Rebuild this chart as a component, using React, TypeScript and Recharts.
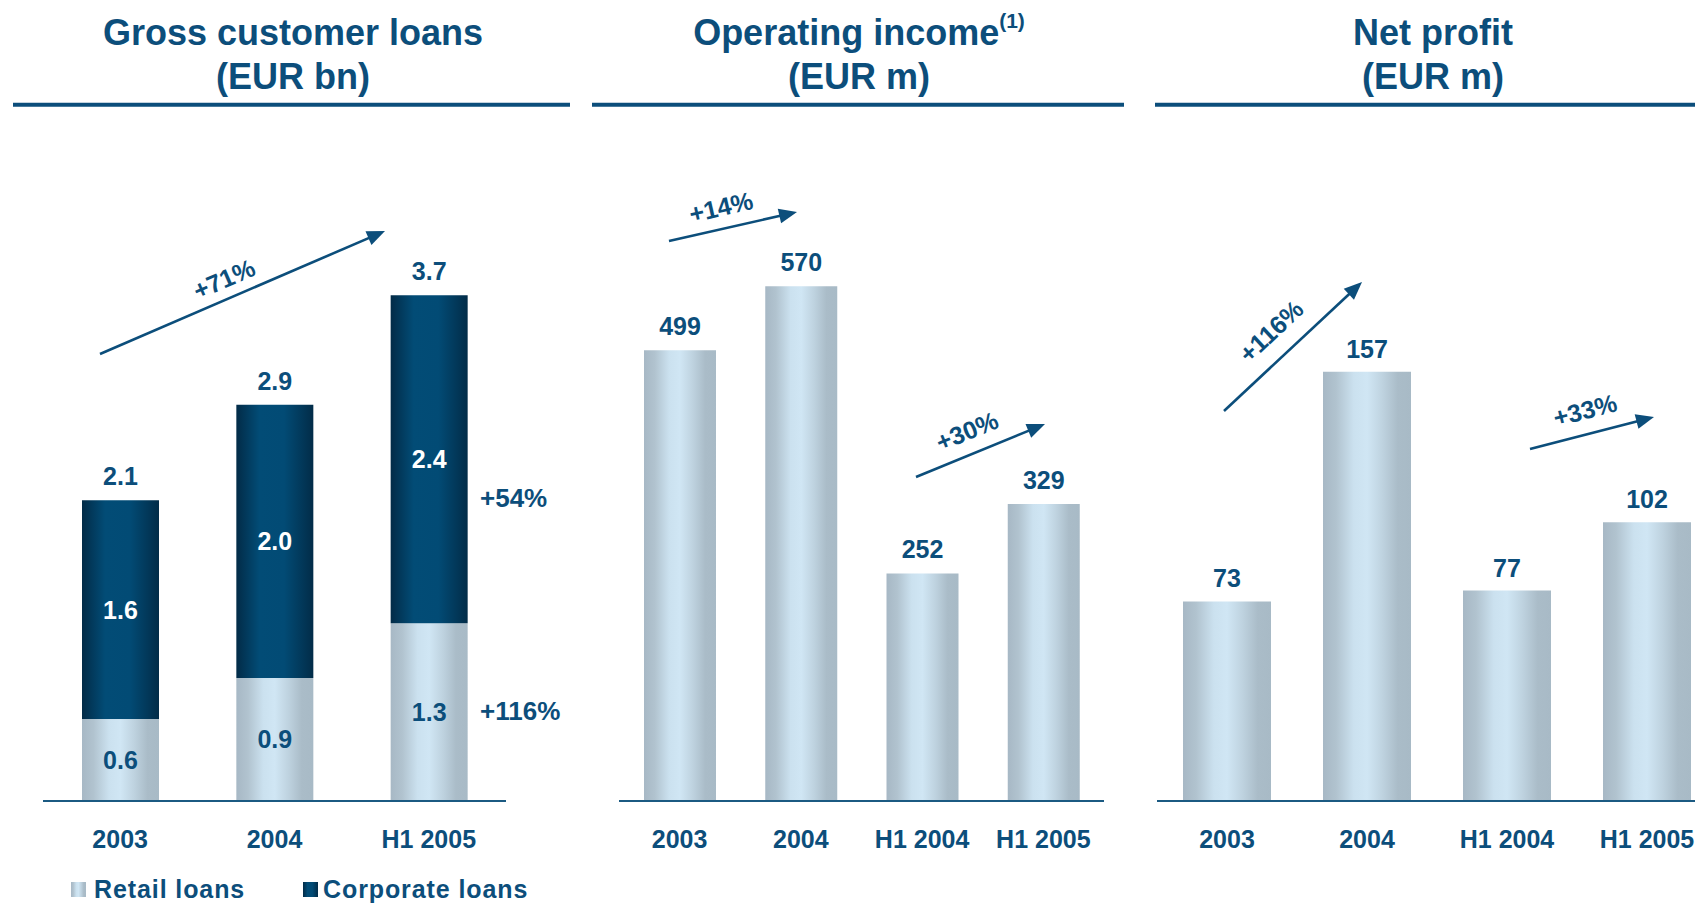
import React from 'react';
import { BarChart, Bar, XAxis, YAxis, LabelList } from 'recharts';

// ---------- data ----------
const loanCategories = ['2003', '2004', 'H1 2005'];
const retailLoans = [0.6, 0.9, 1.3];
const corporateLoans = [1.6, 2.0, 2.4];
const loanTotals = [2.1, 2.9, 3.7];
const loanSeriesNames = ['Retail loans', 'Corporate loans'];

const periodCategories = ['2003', '2004', 'H1 2004', 'H1 2005'];
const operatingIncome = [499, 570, 252, 329];
const netProfit = [73, 157, 77, 102];

const loanGrowthLabels = ['+71%', '+54%', '+116%'];
const incomeGrowthLabels = ['+14%', '+30%'];
const profitGrowthLabels = ['+116%', '+33%'];

const panelTitles = ['Gross customer loans', 'Operating income', 'Net profit'];
const panelUnits = ['(EUR bn)', '(EUR m)', '(EUR m)'];
const footnoteMark = '(1)';

// ---------- tables built from the arrays ----------
const loanData = loanCategories.map((name, i) => ({
  name,
  retail: retailLoans[i],
  corporate: corporateLoans[i],
  total: loanTotals[i],
}));
const incomeData = periodCategories.map((name, i) => ({ name, value: operatingIncome[i] }));
const profitData = periodCategories.map((name, i) => ({ name, value: netProfit[i] }));

// ---------- styles ----------
const NAVY = '#0C4E7B';
const AXIS = '#1B5A82';
const FONT = '"Liberation Sans", Arial, Helvetica, sans-serif';
const tickStyle = { fill: NAVY, fontSize: 25, fontWeight: 700, fontFamily: FONT };
const valueLabelStyle = { fill: NAVY, fontSize: 25, fontWeight: 700, fontFamily: FONT };

const fmt1 = (v: any) => Number(v).toFixed(1);

function RetailGradient({ id }: { id: string }) {
  return (
    <linearGradient id={id} x1="0" y1="0" x2="1" y2="0">
      <stop offset="0%" stopColor="#A7B8C5" />
      <stop offset="15%" stopColor="#B1C3CF" />
      <stop offset="35%" stopColor="#CBE1EF" />
      <stop offset="50%" stopColor="#D0E6F4" />
      <stop offset="68%" stopColor="#BED2DF" />
      <stop offset="85%" stopColor="#AABCC8" />
      <stop offset="100%" stopColor="#A8BAC6" />
    </linearGradient>
  );
}

function CorporateGradient({ id }: { id: string }) {
  return (
    <linearGradient id={id} x1="0" y1="0" x2="1" y2="0">
      <stop offset="0%" stopColor="#022B47" />
      <stop offset="30%" stopColor="#024C76" />
      <stop offset="62%" stopColor="#024B75" />
      <stop offset="100%" stopColor="#022C48" />
    </linearGradient>
  );
}

function Arrow({ x1, y1, x2, y2 }: { x1: number; y1: number; x2: number; y2: number }) {
  const dx = x2 - x1;
  const dy = y2 - y1;
  const len = Math.hypot(dx, dy);
  const ux = dx / len;
  const uy = dy / len;
  const nx = -uy;
  const ny = ux;
  const head = 18;
  const half = 7.5;
  const bx = x2 - head * ux;
  const by = y2 - head * uy;
  return (
    <g>
      <line x1={x1} y1={y1} x2={bx + 2 * ux} y2={by + 2 * uy} stroke={NAVY} strokeWidth={2.6} />
      <polygon
        points={`${x2},${y2} ${bx + half * nx},${by + half * ny} ${bx - half * nx},${by - half * ny}`}
        fill={NAVY}
      />
    </g>
  );
}

function GrowthArrow({ label, arrow, text }: { label: string; arrow: number[]; text: number[] }) {
  const [x1, y1, x2, y2] = arrow;
  const angle = (Math.atan2(y2 - y1, x2 - x1) * 180) / Math.PI;
  return (
    <g>
      <Arrow x1={x1} y1={y1} x2={x2} y2={y2} />
      <text
        x={text[0]}
        y={text[1]}
        transform={`rotate(${angle} ${text[0]} ${text[1]})`}
        textAnchor="middle"
        dominantBaseline="central"
        fill={NAVY}
        fontSize={25}
        fontWeight={700}
        fontFamily={FONT}
      >
        {label}
      </text>
    </g>
  );
}

// layout of the decorations (not data)
const arrowLayout = {
  loans: { arrow: [100, 354, 385, 231], text: [224, 279] },
  income1: { arrow: [669, 241, 797, 212], text: [721, 207] },
  income2: { arrow: [916, 477, 1045, 424], text: [967, 431] },
  profit1: { arrow: [1224, 411, 1362, 282], text: [1271, 331] },
  profit2: { arrow: [1530, 449, 1654, 417], text: [1585, 410] },
};

function Overlay() {
  return (
    <svg
      width={1695}
      height={903}
      style={{ position: 'absolute', left: 0, top: 0, pointerEvents: 'none' }}
    >
      <defs>
        <RetailGradient id="legRetail" />
        <CorporateGradient id="legCorp" />
      </defs>
      {/* titles */}
      <g fill={NAVY} fontFamily={FONT} fontWeight={700} fontSize={36} textAnchor="middle">
        <text x={293} y={45}>{panelTitles[0]}</text>
        <text x={293} y={89}>{panelUnits[0]}</text>
        <text x={859} y={45}>
          {panelTitles[1]}
          <tspan fontSize={21} dy={-17}>{footnoteMark}</tspan>
        </text>
        <text x={859} y={89}>{panelUnits[1]}</text>
        <text x={1433} y={45}>{panelTitles[2]}</text>
        <text x={1433} y={89}>{panelUnits[2]}</text>
      </g>
      {/* title underlines */}
      <g stroke={NAVY} strokeWidth={4}>
        <line x1={13} y1={104.7} x2={570} y2={104.7} />
        <line x1={592} y1={104.7} x2={1124} y2={104.7} />
        <line x1={1155} y1={104.7} x2={1695} y2={104.7} />
      </g>
      {/* growth annotations */}
      <GrowthArrow label={loanGrowthLabels[0]} arrow={arrowLayout.loans.arrow} text={arrowLayout.loans.text} />
      <GrowthArrow label={incomeGrowthLabels[0]} arrow={arrowLayout.income1.arrow} text={arrowLayout.income1.text} />
      <GrowthArrow label={incomeGrowthLabels[1]} arrow={arrowLayout.income2.arrow} text={arrowLayout.income2.text} />
      <GrowthArrow label={profitGrowthLabels[0]} arrow={arrowLayout.profit1.arrow} text={arrowLayout.profit1.text} />
      <GrowthArrow label={profitGrowthLabels[1]} arrow={arrowLayout.profit2.arrow} text={arrowLayout.profit2.text} />
      <g fill={NAVY} fontFamily={FONT} fontWeight={700} fontSize={26}>
        <text x={480} y={507}>{loanGrowthLabels[1]}</text>
        <text x={480} y={720}>{loanGrowthLabels[2]}</text>
      </g>
      {/* legend */}
      <rect x={71} y={882} width={15} height={15} fill="url(#legRetail)" />
      <rect x={303} y={882} width={15} height={15} fill="url(#legCorp)" />
      <g fill={NAVY} fontFamily={FONT} fontWeight={700} fontSize={25} letterSpacing={0.9}>
        <text x={94} y={898}>{loanSeriesNames[0]}</text>
        <text x={323} y={898}>{loanSeriesNames[1]}</text>
      </g>
    </svg>
  );
}

const xAxisProps = {
  dataKey: 'name',
  height: 60,
  tickLine: false,
  axisLine: { stroke: AXIS, strokeWidth: 2 },
  tick: tickStyle,
  tickMargin: 23,
  interval: 0 as const,
};

export default function App() {
  return (
    <div
      style={{
        position: 'absolute',
        left: 0,
        top: 0,
        width: 1695,
        height: 903,
        overflow: 'hidden',
        background: '#ffffff',
        fontFamily: FONT,
      }}
    >
      <div style={{ position: 'absolute', left: 43, top: 186 }}>
        <BarChart width={463} height={675} data={loanData} margin={{ top: 0, right: 0, bottom: 0, left: 0 }}>
          <defs>
            <RetailGradient id="retailGrad1" />
            <CorporateGradient id="corpGrad1" />
          </defs>
          <XAxis {...xAxisProps} />
          <YAxis hide domain={[0, 4.5]} />
          <Bar dataKey="retail" name={loanSeriesNames[0]} stackId="a" fill="url(#retailGrad1)" barSize={77} isAnimationActive={false}>
            <LabelList dataKey="retail" position="center" formatter={fmt1} {...valueLabelStyle} />
          </Bar>
          <Bar dataKey="corporate" name={loanSeriesNames[1]} stackId="a" fill="url(#corpGrad1)" barSize={77} isAnimationActive={false}>
            <LabelList dataKey="corporate" position="center" formatter={fmt1} {...valueLabelStyle} fill="#ffffff" />
            <LabelList dataKey="total" position="top" offset={15} formatter={fmt1} {...valueLabelStyle} />
          </Bar>
        </BarChart>
      </div>

      <div style={{ position: 'absolute', left: 619, top: 186 }}>
        <BarChart width={485} height={675} data={incomeData} margin={{ top: 0, right: 0, bottom: 0, left: 0 }}>
          <defs>
            <RetailGradient id="retailGrad2" />
          </defs>
          <XAxis {...xAxisProps} />
          <YAxis hide domain={[0, 681]} />
          <Bar dataKey="value" fill="url(#retailGrad2)" barSize={72} isAnimationActive={false}>
            <LabelList dataKey="value" position="top" offset={15} {...valueLabelStyle} />
          </Bar>
        </BarChart>
      </div>

      <div style={{ position: 'absolute', left: 1157, top: 186 }}>
        <BarChart width={560} height={675} data={profitData} margin={{ top: 0, right: 0, bottom: 0, left: 0 }}>
          <defs>
            <RetailGradient id="retailGrad3" />
          </defs>
          <XAxis {...xAxisProps} />
          <YAxis hide domain={[0, 225]} />
          <Bar dataKey="value" fill="url(#retailGrad3)" barSize={88} isAnimationActive={false}>
            <LabelList dataKey="value" position="top" offset={14} {...valueLabelStyle} />
          </Bar>
        </BarChart>
      </div>

      <Overlay />
    </div>
  );
}
